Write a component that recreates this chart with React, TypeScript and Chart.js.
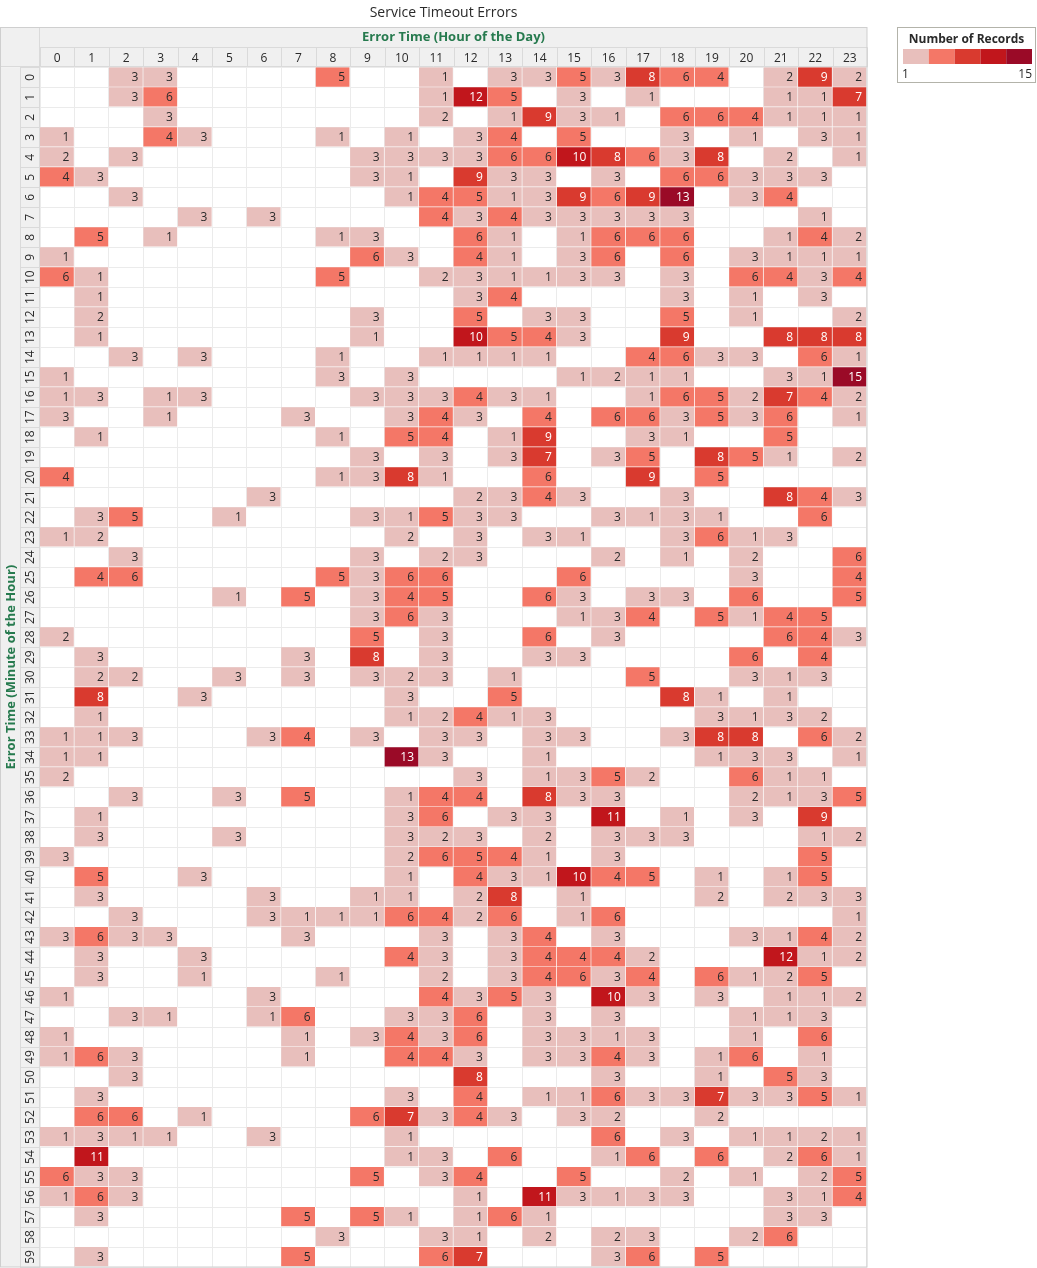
import React, { useEffect, useRef } from 'react';
import { Chart, registerables } from 'chart.js';

Chart.register(...registerables);

const chartTitle = 'Service Timeout Errors';
const xAxisTitle = 'Error Time (Hour of the Day)';
const yAxisTitle = 'Error Time (Minute of the Hour)';
const legendTitle = 'Number of Records';
const legendMinLabel = '1';
const legendMaxLabel = '15';

const hourLabels = ['0', '1', '2', '3', '4', '5', '6', '7', '8', '9', '10', '11', '12', '13', '14', '15', '16', '17', '18', '19', '20', '21', '22', '23'];

const minuteLabels = [
  '0', '1', '2', '3', '4', '5', '6', '7', '8', '9',
  '10', '11', '12', '13', '14', '15', '16', '17', '18', '19',
  '20', '21', '22', '23', '24', '25', '26', '27', '28', '29',
  '30', '31', '32', '33', '34', '35', '36', '37', '38', '39',
  '40', '41', '42', '43', '44', '45', '46', '47', '48', '49',
  '50', '51', '52', '53', '54', '55', '56', '57', '58', '59',
];

// Number of records per minute (row) and hour (column); 0 = no records
const recordCounts = [
  [0, 0, 3, 3, 0, 0, 0, 0, 5, 0, 0, 1, 0, 3, 3, 5, 3, 8, 6, 4, 0, 2, 9, 2],
  [0, 0, 3, 6, 0, 0, 0, 0, 0, 0, 0, 1, 12, 5, 0, 3, 0, 1, 0, 0, 0, 1, 1, 7],
  [0, 0, 0, 3, 0, 0, 0, 0, 0, 0, 0, 2, 0, 1, 9, 3, 1, 0, 6, 6, 4, 1, 1, 1],
  [1, 0, 0, 4, 3, 0, 0, 0, 1, 0, 1, 0, 3, 4, 0, 5, 0, 0, 3, 0, 1, 0, 3, 1],
  [2, 0, 3, 0, 0, 0, 0, 0, 0, 3, 3, 3, 3, 6, 6, 10, 8, 6, 3, 8, 0, 2, 0, 1],
  [4, 3, 0, 0, 0, 0, 0, 0, 0, 3, 1, 0, 9, 3, 3, 0, 3, 0, 6, 6, 3, 3, 3, 0],
  [0, 0, 3, 0, 0, 0, 0, 0, 0, 0, 1, 4, 5, 1, 3, 9, 6, 9, 13, 0, 3, 4, 0, 0],
  [0, 0, 0, 0, 3, 0, 3, 0, 0, 0, 0, 4, 3, 4, 3, 3, 3, 3, 3, 0, 0, 0, 1, 0],
  [0, 5, 0, 1, 0, 0, 0, 0, 1, 3, 0, 0, 6, 1, 0, 1, 6, 6, 6, 0, 0, 1, 4, 2],
  [1, 0, 0, 0, 0, 0, 0, 0, 0, 6, 3, 0, 4, 1, 0, 3, 6, 0, 6, 0, 3, 1, 1, 1],
  [6, 1, 0, 0, 0, 0, 0, 0, 5, 0, 0, 2, 3, 1, 1, 3, 3, 0, 3, 0, 6, 4, 3, 4],
  [0, 1, 0, 0, 0, 0, 0, 0, 0, 0, 0, 0, 3, 4, 0, 0, 0, 0, 3, 0, 1, 0, 3, 0],
  [0, 2, 0, 0, 0, 0, 0, 0, 0, 3, 0, 0, 5, 0, 3, 3, 0, 0, 5, 0, 1, 0, 0, 2],
  [0, 1, 0, 0, 0, 0, 0, 0, 0, 1, 0, 0, 10, 5, 4, 3, 0, 0, 9, 0, 0, 8, 8, 8],
  [0, 0, 3, 0, 3, 0, 0, 0, 1, 0, 0, 1, 1, 1, 1, 0, 0, 4, 6, 3, 3, 0, 6, 1],
  [1, 0, 0, 0, 0, 0, 0, 0, 3, 0, 3, 0, 0, 0, 0, 1, 2, 1, 1, 0, 0, 3, 1, 15],
  [1, 3, 0, 1, 3, 0, 0, 0, 0, 3, 3, 3, 4, 3, 1, 0, 0, 1, 6, 5, 2, 7, 4, 2],
  [3, 0, 0, 1, 0, 0, 0, 3, 0, 0, 3, 4, 3, 0, 4, 0, 6, 6, 3, 5, 3, 6, 0, 1],
  [0, 1, 0, 0, 0, 0, 0, 0, 1, 0, 5, 4, 0, 1, 9, 0, 0, 3, 1, 0, 0, 5, 0, 0],
  [0, 0, 0, 0, 0, 0, 0, 0, 0, 3, 0, 3, 0, 3, 7, 0, 3, 5, 0, 8, 5, 1, 0, 2],
  [4, 0, 0, 0, 0, 0, 0, 0, 1, 3, 8, 1, 0, 0, 6, 0, 0, 9, 0, 5, 0, 0, 0, 0],
  [0, 0, 0, 0, 0, 0, 3, 0, 0, 0, 0, 0, 2, 3, 4, 3, 0, 0, 3, 0, 0, 8, 4, 3],
  [0, 3, 5, 0, 0, 1, 0, 0, 0, 3, 1, 5, 3, 3, 0, 0, 3, 1, 3, 1, 0, 0, 6, 0],
  [1, 2, 0, 0, 0, 0, 0, 0, 0, 0, 2, 0, 3, 0, 3, 1, 0, 0, 3, 6, 1, 3, 0, 0],
  [0, 0, 3, 0, 0, 0, 0, 0, 0, 3, 0, 2, 3, 0, 0, 0, 2, 0, 1, 0, 2, 0, 0, 6],
  [0, 4, 6, 0, 0, 0, 0, 0, 5, 3, 6, 6, 0, 0, 0, 6, 0, 0, 0, 0, 3, 0, 0, 4],
  [0, 0, 0, 0, 0, 1, 0, 5, 0, 3, 4, 5, 0, 0, 6, 3, 0, 3, 3, 0, 6, 0, 0, 5],
  [0, 0, 0, 0, 0, 0, 0, 0, 0, 3, 6, 3, 0, 0, 0, 1, 3, 4, 0, 5, 1, 4, 5, 0],
  [2, 0, 0, 0, 0, 0, 0, 0, 0, 5, 0, 3, 0, 0, 6, 0, 3, 0, 0, 0, 0, 6, 4, 3],
  [0, 3, 0, 0, 0, 0, 0, 3, 0, 8, 0, 3, 0, 0, 3, 3, 0, 0, 0, 0, 6, 0, 4, 0],
  [0, 2, 2, 0, 0, 3, 0, 3, 0, 3, 2, 3, 0, 1, 0, 0, 0, 5, 0, 0, 3, 1, 3, 0],
  [0, 8, 0, 0, 3, 0, 0, 0, 0, 0, 3, 0, 0, 5, 0, 0, 0, 0, 8, 1, 0, 1, 0, 0],
  [0, 1, 0, 0, 0, 0, 0, 0, 0, 0, 1, 2, 4, 1, 3, 0, 0, 0, 0, 3, 1, 3, 2, 0],
  [1, 1, 3, 0, 0, 0, 3, 4, 0, 3, 0, 3, 3, 0, 3, 3, 0, 0, 3, 8, 8, 0, 6, 2],
  [1, 1, 0, 0, 0, 0, 0, 0, 0, 0, 13, 3, 0, 0, 1, 0, 0, 0, 0, 1, 3, 3, 0, 1],
  [2, 0, 0, 0, 0, 0, 0, 0, 0, 0, 0, 0, 3, 0, 1, 3, 5, 2, 0, 0, 6, 1, 1, 0],
  [0, 0, 3, 0, 0, 3, 0, 5, 0, 0, 1, 4, 4, 0, 8, 3, 3, 0, 0, 0, 2, 1, 3, 5],
  [0, 1, 0, 0, 0, 0, 0, 0, 0, 0, 3, 6, 0, 3, 3, 0, 11, 0, 1, 0, 3, 0, 9, 0],
  [0, 3, 0, 0, 0, 3, 0, 0, 0, 0, 3, 2, 3, 0, 2, 0, 3, 3, 3, 0, 0, 0, 1, 2],
  [3, 0, 0, 0, 0, 0, 0, 0, 0, 0, 2, 6, 5, 4, 1, 0, 3, 0, 0, 0, 0, 0, 5, 0],
  [0, 5, 0, 0, 3, 0, 0, 0, 0, 0, 1, 0, 4, 3, 1, 10, 4, 5, 0, 1, 0, 1, 5, 0],
  [0, 3, 0, 0, 0, 0, 3, 0, 0, 1, 1, 0, 2, 8, 0, 1, 0, 0, 0, 2, 0, 2, 3, 3],
  [0, 0, 3, 0, 0, 0, 3, 1, 1, 1, 6, 4, 2, 6, 0, 1, 6, 0, 0, 0, 0, 0, 0, 1],
  [3, 6, 3, 3, 0, 0, 0, 3, 0, 0, 0, 3, 0, 3, 4, 0, 3, 0, 0, 0, 3, 1, 4, 2],
  [0, 3, 0, 0, 3, 0, 0, 0, 0, 0, 4, 3, 0, 3, 4, 4, 4, 2, 0, 0, 0, 12, 1, 2],
  [0, 3, 0, 0, 1, 0, 0, 0, 1, 0, 0, 2, 0, 3, 4, 6, 3, 4, 0, 6, 1, 2, 5, 0],
  [1, 0, 0, 0, 0, 0, 3, 0, 0, 0, 0, 4, 3, 5, 3, 0, 10, 3, 0, 3, 0, 1, 1, 2],
  [0, 0, 3, 1, 0, 0, 1, 6, 0, 0, 3, 3, 6, 0, 3, 0, 3, 0, 0, 0, 1, 1, 3, 0],
  [1, 0, 0, 0, 0, 0, 0, 1, 0, 3, 4, 3, 6, 0, 3, 3, 1, 3, 0, 0, 1, 0, 6, 0],
  [1, 6, 3, 0, 0, 0, 0, 1, 0, 0, 4, 4, 3, 0, 3, 3, 4, 3, 0, 1, 6, 0, 1, 0],
  [0, 0, 3, 0, 0, 0, 0, 0, 0, 0, 0, 0, 8, 0, 0, 0, 3, 0, 0, 1, 0, 5, 3, 0],
  [0, 3, 0, 0, 0, 0, 0, 0, 0, 0, 3, 0, 4, 0, 1, 1, 6, 3, 3, 7, 3, 3, 5, 1],
  [0, 6, 6, 0, 1, 0, 0, 0, 0, 6, 7, 3, 4, 3, 0, 3, 2, 0, 0, 2, 0, 0, 0, 0],
  [1, 3, 1, 1, 0, 0, 3, 0, 0, 0, 1, 0, 0, 0, 0, 0, 6, 0, 3, 0, 1, 1, 2, 1],
  [0, 11, 0, 0, 0, 0, 0, 0, 0, 0, 1, 3, 0, 6, 0, 0, 1, 6, 0, 6, 0, 2, 6, 1],
  [6, 3, 3, 0, 0, 0, 0, 0, 0, 5, 0, 3, 4, 0, 0, 5, 0, 0, 2, 0, 1, 0, 2, 5],
  [1, 6, 3, 0, 0, 0, 0, 0, 0, 0, 0, 0, 1, 0, 11, 3, 1, 3, 3, 0, 0, 3, 1, 4],
  [0, 3, 0, 0, 0, 0, 0, 5, 0, 5, 1, 0, 1, 6, 1, 0, 0, 0, 0, 0, 0, 3, 3, 0],
  [0, 0, 0, 0, 0, 0, 0, 0, 3, 0, 0, 3, 1, 0, 2, 0, 2, 3, 0, 0, 2, 6, 0, 0],
  [0, 3, 0, 0, 0, 0, 0, 5, 0, 0, 0, 6, 7, 0, 0, 0, 3, 6, 0, 5, 0, 0, 0, 0],
];

// colour bins: 1-3, 4-6, 7-9, 10-12, 13-15
const binLowerBounds = [1, 4, 7, 10, 13];
const binColors = ['#e8bfbc', '#f47767', '#d93a2f', '#c1161c', '#9a0a27'];

const FONT = '"Open Sans", "Noto Sans", sans-serif';
const GREEN = '#267a4e';
const TEXT = '#2a2a2a';
const HEADER_BG = '#f0f0f0';
const LINE = '#dadada';

function binOf(v: number): number {
  let idx = 0;
  for (let i = 0; i < binLowerBounds.length; i++) if (v >= binLowerBounds[i]) idx = i;
  return idx;
}

const framePlugin = {
  id: 'frame',
  beforeDraw(chart: any) {
    const { ctx, chartArea } = chart;
    const { left, right, top, bottom } = chartArea;
    const headTop = top - 40;
    const midHead = top - 20;
    ctx.save();
    ctx.fillStyle = HEADER_BG;
    ctx.fillRect(0, headTop, right, top - headTop);
    ctx.fillRect(0, top, left, bottom - top);
    ctx.strokeStyle = LINE;
    ctx.lineWidth = 1;
    ctx.beginPath();
    ctx.moveTo(left, Math.round(midHead) + 0.5);
    ctx.lineTo(right, Math.round(midHead) + 0.5);
    const colW = (right - left) / hourLabels.length;
    for (let i = 0; i <= hourLabels.length; i++) {
      const xx = Math.round(left + i * colW) + 0.5;
      ctx.moveTo(xx, midHead);
      ctx.lineTo(xx, top);
    }
    const rowH = (bottom - top) / minuteLabels.length;
    const labelColLeft = left - 20;
    for (let i = 0; i <= minuteLabels.length; i++) {
      const yy = Math.round(top + i * rowH) + 0.5;
      ctx.moveTo(labelColLeft, yy);
      ctx.lineTo(left, yy);
    }
    ctx.moveTo(Math.round(labelColLeft) + 0.5, top);
    ctx.lineTo(Math.round(labelColLeft) + 0.5, bottom);
    ctx.moveTo(Math.round(left) - 0.5, headTop);
    ctx.lineTo(Math.round(left) - 0.5, bottom);
    ctx.moveTo(0, Math.round(top) - 0.5);
    ctx.lineTo(right, Math.round(top) - 0.5);
    ctx.stroke();
    ctx.restore();
  },
  afterDraw(chart: any) {
    const { ctx, chartArea } = chart;
    const { right, top, bottom } = chartArea;
    const headTop = top - 40;
    ctx.save();
    ctx.strokeStyle = '#cfcfcf';
    ctx.lineWidth = 1;
    ctx.strokeRect(0.5, Math.round(headTop) + 0.5, Math.round(right) - 0.5, Math.round(bottom - headTop) - 0.5);
    ctx.restore();
  },
};

const cellLabelPlugin = {
  id: 'cellLabels',
  afterDatasetsDraw(chart: any) {
    const meta = chart.getDatasetMeta(0);
    const data = chart.data.datasets[0].data as any[];
    const ctx = chart.ctx;
    ctx.save();
    ctx.font = `12px ${FONT}`;
    ctx.textAlign = 'right';
    ctx.textBaseline = 'middle';
    meta.data.forEach((el: any, i: number) => {
      const raw = data[i];
      const p = el.getProps(['x', 'y', 'base', 'width'], true);
      ctx.fillStyle = raw.v >= binLowerBounds[2] ? '#ffffff' : TEXT;
      ctx.fillText(String(raw.v), p.x + p.width / 2 - 5, (p.y + p.base) / 2 + 0.5);
    });
    ctx.restore();
  },
};

const legendPlugin = {
  id: 'heatLegend',
  afterDraw(chart: any) {
    const ctx = chart.ctx;
    const bx = 897.5, by = 27.5, bw = 138, bh = 55;
    ctx.save();
    ctx.fillStyle = '#ffffff';
    ctx.fillRect(bx, by, bw, bh);
    ctx.strokeStyle = '#b3b3aa';
    ctx.lineWidth = 1;
    ctx.strokeRect(bx, by, bw, bh);
    ctx.fillStyle = TEXT;
    ctx.font = `bold 12px ${FONT}`;
    ctx.textAlign = 'center';
    ctx.textBaseline = 'middle';
    ctx.fillText(legendTitle, bx + bw / 2, 40);
    const barL = 903, barR = 1032, barT = 49, barB = 64;
    const segW = (barR - barL) / binColors.length;
    binColors.forEach((c, i) => {
      ctx.fillStyle = c;
      ctx.fillRect(barL + i * segW, barT, segW, barB - barT);
    });
    ctx.fillStyle = TEXT;
    ctx.font = `12px ${FONT}`;
    ctx.textAlign = 'left';
    ctx.fillText(legendMinLabel, barL - 1, 75);
    ctx.textAlign = 'right';
    ctx.fillText(legendMaxLabel, barR, 75);
    ctx.restore();
  },
};

function noScalePadding(s: any) {
  s.paddingTop = 0;
  s.paddingBottom = 0;
  s.paddingLeft = 0;
  s.paddingRight = 0;
}

export default function App() {
  const canvasRef = useRef<HTMLCanvasElement | null>(null);

  useEffect(() => {
    const canvas = canvasRef.current;
    if (!canvas) return;
    const cells: any[] = [];
    recordCounts.forEach((row, r) => {
      row.forEach((v, c) => {
        if (v > 0) cells.push({ x: hourLabels[c], y: [r, r + 1], v });
      });
    });

    const chart = new Chart(canvas, {
      type: 'bar',
      data: {
        labels: hourLabels,
        datasets: [
          {
            label: legendTitle,
            data: cells,
            xAxisID: 'x',
            yAxisID: 'yv',
            backgroundColor: (c: any) => binColors[binOf(c.raw ? c.raw.v : 1)],
            borderColor: '#ffffff',
            borderWidth: { top: 0, left: 0, right: 1, bottom: 1 },
            borderSkipped: false,
            barPercentage: 1,
            categoryPercentage: 1,
            grouped: false,
          } as any,
        ],
      },
      options: {
        responsive: false,
        animation: false,
        devicePixelRatio: 1,
        layout: { padding: { left: 0, top: 0, right: 150, bottom: 1 } },
        plugins: {
          legend: { display: false },
          tooltip: { enabled: false },
          title: {
            display: true,
            text: chartTitle,
            color: TEXT,
            font: { family: FONT, size: 14, weight: 'normal' },
            padding: { top: 4.5, bottom: 6 },
            fullSize: true,
          },
        },
        scales: {
          x: {
            type: 'category',
            position: 'top',
            offset: true,
            grid: { offset: true, color: '#ebebeb', drawTicks: false },
            border: { display: false },
            ticks: { color: TEXT, font: { family: FONT, size: 12 }, padding: 1.5, maxRotation: 0, autoSkip: false },
            title: {
              display: true,
              text: xAxisTitle,
              color: GREEN,
              font: { family: FONT, size: 13, weight: 'bold' },
              padding: { top: 2.5, bottom: 0 },
            },
            afterFit: (s: any) => { s.height = 40; noScalePadding(s); },
          },
          y: {
            type: 'category',
            labels: minuteLabels,
            position: 'left',
            offset: true,
            grid: { offset: true, color: '#ebebeb', drawTicks: false },
            border: { display: false },
            ticks: {
              color: TEXT,
              font: { family: FONT, size: 12 },
              padding: 3,
              minRotation: 90,
              maxRotation: 90,
              crossAlign: 'center',
              autoSkip: false,
            },
            title: {
              display: true,
              text: yAxisTitle,
              color: GREEN,
              font: { family: FONT, size: 13, weight: 'bold' },
              padding: { top: 3, bottom: 0 },
            },
            afterFit: (s: any) => { s.width = 40; noScalePadding(s); },
          },
          yv: {
            type: 'linear', display: false, min: 0, max: 60, reverse: true,
            afterFit: (s: any) => { noScalePadding(s); },
          },
          yR: {
            type: 'linear',
            position: 'right',
            display: true,
            grid: { display: false },
            border: { display: false },
            ticks: { display: false },
            afterFit: (s: any) => { s.width = 20; noScalePadding(s); },
          },
        },
      } as any,
      plugins: [framePlugin, cellLabelPlugin, legendPlugin],
    });

    return () => chart.destroy();
  }, []);

  return (
    <div style={{ position: 'absolute', left: 0, top: 0, width: 1037, height: 1268, background: '#ffffff' }}>
      <canvas ref={canvasRef} width={1037} height={1268} style={{ display: 'block' }} />
    </div>
  );
}
